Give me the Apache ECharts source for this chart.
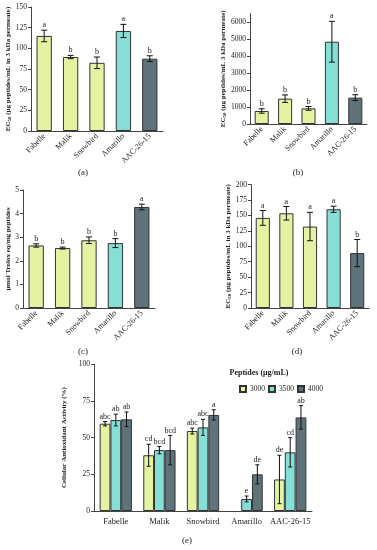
<!DOCTYPE html>
<html>
<head>
<meta charset="utf-8">
<script src="https://cdn.jsdelivr.net/npm/echarts@6/dist/echarts.min.js"></script>
<style>html,body{margin:0;padding:0;background:#fff}#c{width:377px;height:550px}</style>
</head>
<body>
<div id="c"></div>
<script>
const categories = ['Fabelle', 'Malik', 'Snowbird', 'Amarillo', 'AAC-26-15'];

const aValues = [115, 89.5, 82.5, 121, 87.5];
const aErrors = [7, 2, 7, 8, 3.5];
const aLetters = ['a', 'b', 'b', 'a', 'b'];

const bValues = [765, 1490, 920, 4840, 1550];
const bErrors = [130, 220, 110, 1200, 170];
const bLetters = ['b', 'b', 'b', 'a', 'b'];

const cValues = [2.65, 2.54, 2.87, 2.75, 4.28];
const cErrors = [0.07, 0.04, 0.14, 0.19, 0.12];
const cLetters = ['b', 'b', 'b', 'b', 'a'];

const dValues = [146, 153.5, 132, 160, 89];
const dErrors = [12, 11, 23, 5, 22];
const dLetters = ['a', 'a', 'a', 'a', 'b'];

const eDoses = ['3000', '3500', '4000'];
const e3000 = [59.5, 38, 54.5, null, 21.5];
const e3000Err = [1.5, 7.5, 2, null, 16.5];
const e3000Letters = ['abc', 'cd', 'abc', '', 'de'];
const e3500 = [62, 41.5, 57, 8.2, 40];
const e3500Err = [4, 2.5, 5.5, 2, 10];
const e3500Letters = ['ab', 'bcd', 'abc', 'e', 'cd'];
const e4000 = [62.5, 41.5, 65.5, 25, 63.8];
const e4000Err = [5, 10, 3.5, 6.5, 8];
const e4000Letters = ['ab', 'bcd', 'a', 'de', 'ab'];

const catColors = ['#E3F3A1', '#E3F3A1', '#E3F3A1', '#86DFD7', '#5F737B'];
const doseColors = ['#E3F3A1', '#86DFD7', '#5F737B'];

const SERIF = "'Liberation Serif', 'DejaVu Serif', serif";
const TXT = '#222';

const chart = echarts.init(document.getElementById('c'), null, {renderer: 'canvas'});

function errSeries(gi, values, errs, letters, offsetFrac, capW, fs) {
  return {
    type: 'custom', xAxisIndex: gi, yAxisIndex: gi, z: 5, silent: true,
    data: values.map((v, i) => [i, v == null ? 0 : v]),
    renderItem: function (params, api) {
      const i = params.dataIndex;
      const v = values[i];
      if (v == null) return null;
      const band = api.size([1, 0])[0];
      const x = api.coord([i, v])[0] + offsetFrac * band;
      const yT = api.coord([i, v + errs[i]])[1];
      const yB = api.coord([i, v - errs[i]])[1];
      const st = {stroke: '#111', lineWidth: 1};
      return {
        type: 'group',
        children: [
          {type: 'line', shape: {x1: x, y1: yT, x2: x, y2: yB}, style: st},
          {type: 'line', shape: {x1: x - capW / 2, y1: yT, x2: x + capW / 2, y2: yT}, style: st},
          {type: 'line', shape: {x1: x - capW / 2, y1: yB, x2: x + capW / 2, y2: yB}, style: st},
          {type: 'text', style: {text: letters[i], x: x, y: yT - 1, align: 'center', verticalAlign: 'bottom',
            fontSize: fs, fontFamily: SERIF, fill: TXT}}
        ]
      };
    }
  };
}

function barSeries(gi, values, colors, name, width, gapCat) {
  const s = {
    type: 'bar', name: name, xAxisIndex: gi, yAxisIndex: gi,
    data: values.map((v, i) => ({value: v == null ? '-' : v,
      itemStyle: colors ? {color: colors[i]} : undefined})),
    itemStyle: {borderColor: '#333', borderWidth: 1},
    barGap: '0%'
  };
  if (width) s.barWidth = width;
  if (gapCat) s.barCategoryGap = gapCat;
  return s;
}

const ecName = '{t|EC}{s|50}{t| (μg peptides/mL in 3 kDa permeate)}';
const ecNameB = '{t|EC}{s|50}{t| (μg peptides/mL 3 kDa permeate)}';
const nameStyle = {
  fontFamily: SERIF, fontWeight: 'bold', fontSize: 7, color: TXT,
  rich: {
    t: {fontFamily: SERIF, fontWeight: 'bold', fontSize: 7, color: TXT},
    s: {fontFamily: SERIF, fontWeight: 'bold', fontSize: 5, color: TXT, padding: [3, 0, 0, 0]}
  }
};

function xCat(gi, rotate) {
  return {
    type: 'category', gridIndex: gi, data: categories,
    axisLine: {lineStyle: {color: '#444', width: 1}},
    axisTick: {show: false},
    axisLabel: {rotate: rotate, fontSize: rotate ? 8 : 8.5, fontFamily: SERIF, color: TXT, margin: rotate ? 4 : 6, interval: 0}
  };
}
function yVal(gi, max, interval, name, nameGap, extraLabel) {
  return {
    type: 'value', gridIndex: gi, min: 0, max: max, interval: interval,
    name: name, nameLocation: 'middle', nameGap: nameGap, nameTextStyle: nameStyle,
    splitLine: {show: false},
    axisLine: {show: true, lineStyle: {color: '#444', width: 1}},
    axisTick: {show: true, length: 3, lineStyle: {color: '#444'}},
    axisLabel: Object.assign({fontSize: 7.5, fontFamily: SERIF, color: TXT, margin: 4,
      formatter: function (v) { return String(v); }}, extraLabel || {})
  };
}

const option = {
  backgroundColor: '#fff',
  animation: false,
  grid: [
    {left: 31, top: 7, width: 132, height: 124},
    {left: 250, top: 13.5, width: 117, height: 110.5},
    {left: 23, top: 190, width: 132, height: 118},
    {left: 251, top: 184.6, width: 118, height: 123.4},
    {left: 94, top: 364.3, width: 218, height: 146.7}
  ],
  xAxis: [xCat(0, 45), xCat(1, 45), xCat(2, 45), xCat(3, 45), xCat(4, 0)],
  yAxis: [
    yVal(0, 150, 25, ecName, 16),
    yVal(1, 6500, 1000, ecNameB, 22, {showMaxLabel: false}),
    yVal(2, 5, 1, 'μmol Trolox eq/mg peptides', 10),
    yVal(3, 200, 25, ecName, 17),
    yVal(4, 100, 25, 'Cellular Antioxidant Activity (%)', 14)
  ],
  legend: {
    show: true, left: 234, top: 380, itemWidth: 6, itemHeight: 6, itemGap: 3,
    icon: 'rect',
    data: eDoses,
    textStyle: {fontSize: 7.5, fontFamily: SERIF, color: TXT, padding: [0, 0, 0, -1]}
  },
  graphic: [
    {type: 'text', x: 83, y: 173, style: {text: '(a)', fontSize: 9, fontFamily: SERIF, fill: TXT, align: 'center', verticalAlign: 'middle'}},
    {type: 'text', x: 298, y: 173, style: {text: '(b)', fontSize: 9, fontFamily: SERIF, fill: TXT, align: 'center', verticalAlign: 'middle'}},
    {type: 'text', x: 83, y: 352, style: {text: '(c)', fontSize: 9, fontFamily: SERIF, fill: TXT, align: 'center', verticalAlign: 'middle'}},
    {type: 'text', x: 297, y: 352, style: {text: '(d)', fontSize: 9, fontFamily: SERIF, fill: TXT, align: 'center', verticalAlign: 'middle'}},
    {type: 'text', x: 187, y: 541, style: {text: '(e)', fontSize: 9, fontFamily: SERIF, fill: TXT, align: 'center', verticalAlign: 'middle'}},
    {type: 'text', x: 259, y: 373, style: {text: 'Peptides (μg/mL)', fontSize: 8, fontWeight: 'bold', fontFamily: SERIF, fill: TXT, align: 'center', verticalAlign: 'middle'}}
  ],
  series: [
    barSeries(0, aValues, catColors, 'a', '58%'),
    errSeries(0, aValues, aErrors, aLetters, 0, 6, 8),
    barSeries(1, bValues, catColors, 'b', '60%'),
    errSeries(1, bValues, bErrors, bLetters, 0, 6, 8),
    barSeries(2, cValues, catColors, 'c', '58%'),
    errSeries(2, cValues, cErrors, cLetters, 0, 6, 8),
    barSeries(3, dValues, catColors, 'd', '60%'),
    errSeries(3, dValues, dErrors, dLetters, 0, 6, 8),
    Object.assign(barSeries(4, e3000, null, '3000', null, '26%'), {itemStyle: {color: doseColors[0], borderColor: '#333', borderWidth: 1}}),
    Object.assign(barSeries(4, e3500, null, '3500', null, '26%'), {itemStyle: {color: doseColors[1], borderColor: '#333', borderWidth: 1}}),
    Object.assign(barSeries(4, e4000, null, '4000', null, '26%'), {itemStyle: {color: doseColors[2], borderColor: '#333', borderWidth: 1}}),
    errSeries(4, e3000, e3000Err, e3000Letters, -0.74 / 3, 4, 8),
    errSeries(4, e3500, e3500Err, e3500Letters, 0, 4, 8),
    errSeries(4, e4000, e4000Err, e4000Letters, 0.74 / 3, 4, 8)
  ]
};
chart.setOption(option);
</script>
</body>
</html>
